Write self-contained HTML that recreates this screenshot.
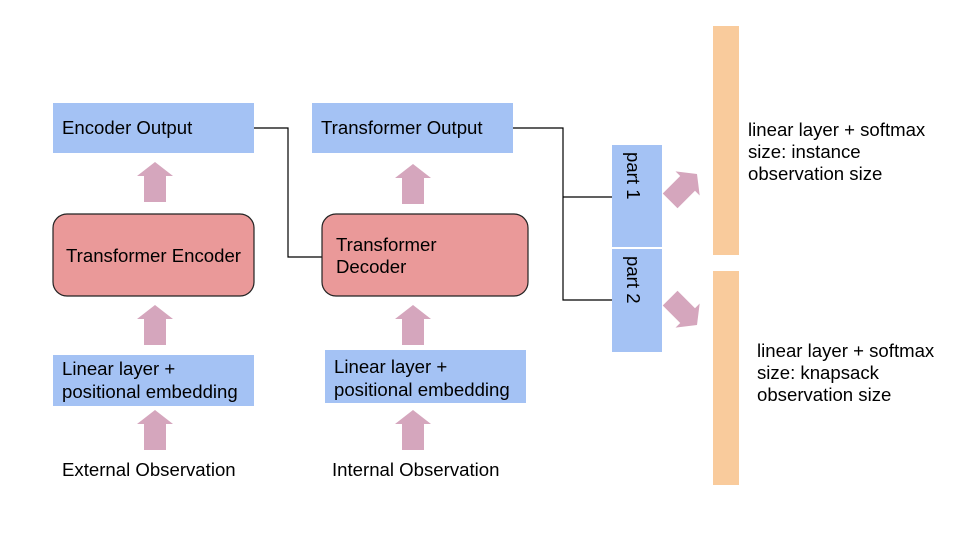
<!DOCTYPE html>
<html><head><style>
body{margin:0;background:#fff;}
svg text{font-family:"Liberation Sans",Arial,sans-serif;font-size:18.6px;fill:#000;}
</style></head><body>
<svg width="960" height="540" viewBox="0 0 960 540" xmlns="http://www.w3.org/2000/svg">
<defs>
<path id="up" d="M-18,14 L0,0 L18,14 L11,14 L11,40 L-11,40 L-11,14 Z" fill="#d5a6bd"/>
</defs>
<rect width="960" height="540" fill="#fff"/>
<polyline points="254,128 288,128 288,257 322,257" fill="none" stroke="#000" stroke-width="1.2"/>
<polyline points="513,128 563,128 563,300 612,300" fill="none" stroke="#000" stroke-width="1.2"/>
<line x1="563" y1="197" x2="612" y2="197" stroke="#000" stroke-width="1.2"/>
<rect x="53" y="103" width="201" height="50" fill="#a4c2f4"/>
<text x="62" y="134">Encoder Output</text>
<rect x="312" y="103" width="201" height="50" fill="#a4c2f4"/>
<text x="321" y="134">Transformer Output</text>
<rect x="53" y="214" width="201" height="82" rx="14" fill="#ea9999" stroke="#222" stroke-width="1.2"/>
<text x="66" y="262">Transformer Encoder</text>
<rect x="322" y="214" width="206" height="82" rx="14" fill="#ea9999" stroke="#222" stroke-width="1.2"/>
<text x="336" y="251">Transformer</text>
<text x="336" y="273">Decoder</text>
<rect x="53" y="355" width="201" height="51" fill="#a4c2f4"/>
<text x="62" y="375">Linear layer +</text>
<text x="62" y="398">positional embedding</text>
<rect x="325" y="350" width="201" height="53" fill="#a4c2f4"/>
<text x="334" y="373">Linear layer +</text>
<text x="334" y="396">positional embedding</text>
<text x="62" y="476">External Observation</text>
<text x="332" y="476">Internal Observation</text>
<use href="#up" x="155" y="162"/>
<use href="#up" x="155" y="305"/>
<use href="#up" x="155" y="410"/>
<use href="#up" x="413" y="164"/>
<use href="#up" x="413" y="305"/>
<use href="#up" x="413" y="410"/>
<rect x="612" y="145" width="50" height="102" fill="#a4c2f4"/>
<rect x="612" y="249" width="50" height="103" fill="#a4c2f4"/>
<text transform="translate(627,152) rotate(90)">part 1</text>
<text transform="translate(627,256) rotate(90)">part 2</text>
<use href="#up" transform="translate(697,174) rotate(45) scale(0.95)"/>
<use href="#up" transform="translate(697,325) rotate(135) scale(0.95)"/>
<rect x="713" y="26" width="26" height="229" fill="#f9cb9c"/>
<rect x="713" y="271" width="26" height="214" fill="#f9cb9c"/>
<text x="748" y="136">linear layer + softmax</text>
<text x="748" y="158">size: instance</text>
<text x="748" y="180">observation size</text>
<text x="757" y="357">linear layer + softmax</text>
<text x="757" y="379">size: knapsack</text>
<text x="757" y="401">observation size</text>
</svg>
</body></html>
